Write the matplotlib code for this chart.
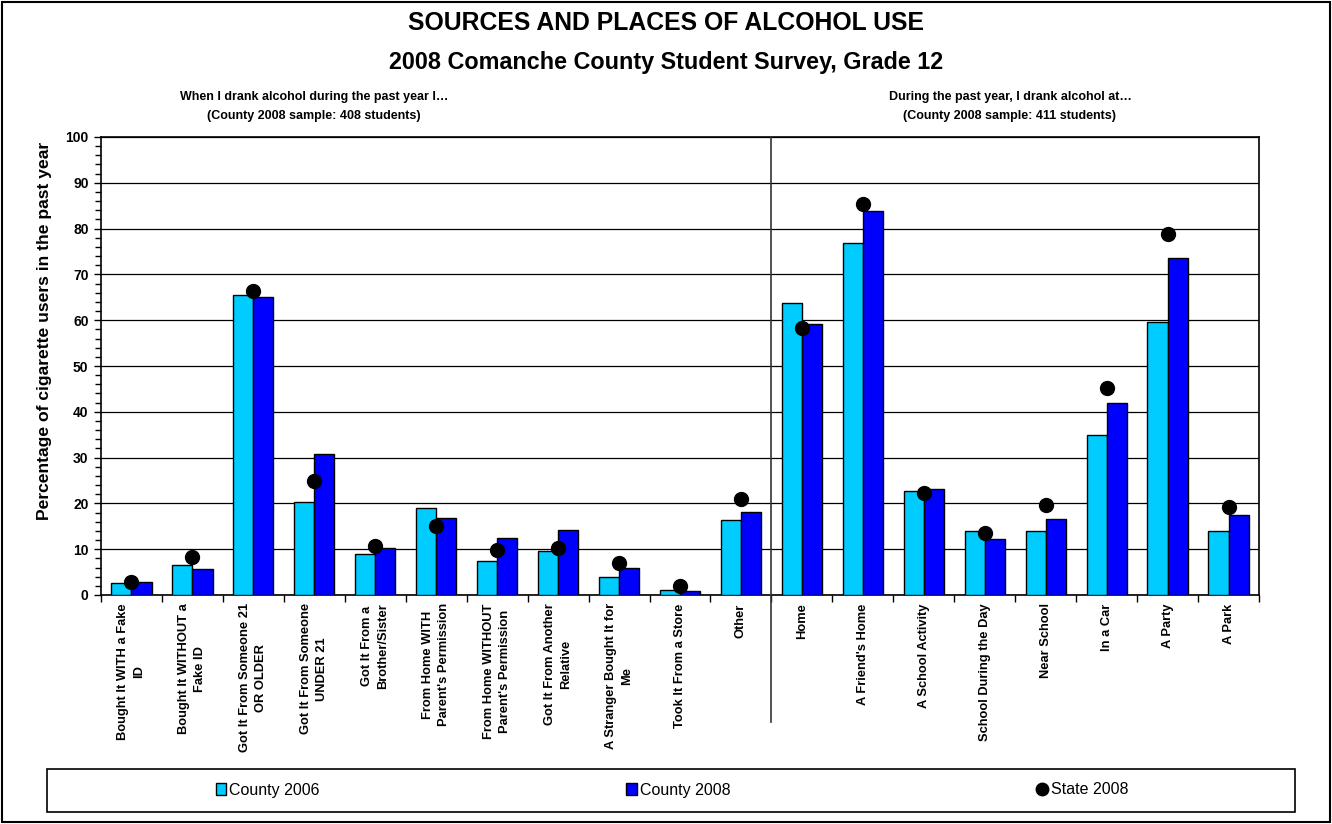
import matplotlib
matplotlib.use("Agg")
import matplotlib.pyplot as plt
import matplotlib.transforms as mtransforms
from matplotlib.patches import Patch, Rectangle
from matplotlib.lines import Line2D
import numpy as np

plt.rcParams["font.family"] = ["Liberation Sans", "DejaVu Sans"]

# Source categories (left panel) and place categories (right panel)
source_labels = [
    "Bought It WITH a Fake\nID",
    "Bought It WITHOUT a\nFake ID",
    "Got It From Someone 21\nOR OLDER",
    "Got It From Someone\nUNDER 21",
    "Got It From a\nBrother/Sister",
    "From Home WITH\nParent's Permission",
    "From Home WITHOUT\nParent's Permission",
    "Got It From Another\nRelative",
    "A Stranger Bought It for\nMe",
    "Took It From a Store",
    "Other",
]
place_labels = [
    "Home",
    "A Friend's Home",
    "A School Activity",
    "School During the Day",
    "Near School",
    "In a Car",
    "A Party",
    "A Park",
]

county_2006_src = [2.7, 6.6, 65.6, 20.3, 8.9, 19.1, 7.4, 9.7, 3.9, 1.1, 16.4]
county_2008_src = [2.9, 5.6, 65.0, 30.8, 10.3, 16.9, 12.5, 14.2, 5.9, 0.9, 18.2]
state_2008_src = [2.8, 8.3, 66.3, 24.8, 10.7, 15.1, 9.9, 10.3, 6.9, 2.0, 21.0]

county_2006_plc = [63.7, 76.8, 22.7, 13.9, 13.9, 34.9, 59.7, 13.9]
county_2008_plc = [59.1, 83.9, 23.1, 12.2, 16.6, 42.0, 73.5, 17.5]
state_2008_plc = [58.2, 85.3, 22.2, 13.5, 19.7, 45.1, 78.8, 19.3]

labels = source_labels + place_labels
c2006 = county_2006_src + county_2006_plc
c2008 = county_2008_src + county_2008_plc
s2008 = state_2008_src + state_2008_plc

LIGHT = "#00CCFF"
DARK = "#0000FF"

W, H = 1332, 824
fig = plt.figure(figsize=(W / 100, H / 100), dpi=100)
ax = fig.add_axes([101 / W, 1 - 595 / H, (1259 - 101) / W, (595 - 137) / H])

x = np.arange(len(labels))
bw = 0.33
ax.bar(x - bw / 2, c2006, bw, color=LIGHT, edgecolor="black", linewidth=1, zorder=3)
ax.bar(x + bw / 2, c2008, bw, color=DARK, edgecolor="black", linewidth=1, zorder=3)
ax.plot(x, s2008, "o", color="black", markersize=10, zorder=4, clip_on=False)

ax.set_xlim(-0.5, len(labels) - 0.5)
ax.set_ylim(0, 100)

# y axis: major every 10, minor every 2
ax.set_yticks(np.arange(0, 101, 10))
ax.set_yticks(np.arange(0, 101, 2), minor=True)
ax.tick_params(axis="y", which="major", direction="out", length=5, width=1, labelsize=10, pad=4)
ax.tick_params(axis="y", which="minor", direction="out", length=4, width=1)
for t in ax.get_yticklabels():
    t.set_fontweight("bold")
ax.grid(axis="y", which="major", color="black", linewidth=0.9, zorder=0)

# x axis: ticks at category boundaries, labels at centers
ax.set_xticks(np.arange(-0.5, len(labels), 1))
ax.set_xticklabels([])
ax.set_xticks(x, minor=True)
ax.set_xticklabels(labels, minor=True, rotation=90, fontsize=9.3, fontweight="bold",
                   va="top", ha="center", multialignment="center", linespacing=1.45)
ax.tick_params(axis="x", which="major", direction="out", length=5, width=1)
ax.tick_params(axis="x", which="minor", length=0, pad=6)

for s in ax.spines.values():
    s.set_linewidth(1.2)

fig.text(45 / W, 1 - 331 / H, "Percentage of cigarette users in the past year",
         rotation=90, ha="center", va="center", fontsize=12.6, fontweight="bold")

# divider between the two panels
trans = mtransforms.blended_transform_factory(ax.transData, ax.transAxes)
ax.plot([10.5, 10.5], [-0.277, 1], transform=trans, color="#333333",
        linewidth=1.2, clip_on=False, zorder=5)

# titles
fig.text(0.5, 1 - 23 / H, "SOURCES AND PLACES OF ALCOHOL USE", ha="center", va="center",
         fontsize=17.8, fontweight="bold")
fig.text(0.5, 1 - 63 / H, "2008 Comanche County Student Survey, Grade 12", ha="center",
         va="center", fontsize=16.8, fontweight="bold")
fig.text(314 / W, 1 - 97 / H, "When I drank alcohol during the past year I\u2026",
         ha="center", va="center", fontsize=9, fontweight="bold")
fig.text(314 / W, 1 - 116 / H, "(County 2008 sample: 408 students)",
         ha="center", va="center", fontsize=9, fontweight="bold")
fig.text(1010 / W, 1 - 97 / H, "During the past year, I drank alcohol at\u2026",
         ha="center", va="center", fontsize=9, fontweight="bold")
fig.text(1010 / W, 1 - 116 / H, "(County 2008 sample: 411 students)",
         ha="center", va="center", fontsize=9, fontweight="bold")

# legend box
fig.patches.append(Rectangle((47 / W, 1 - 812 / H), (1295 - 47) / W, 43 / H,
                             transform=fig.transFigure, fill=False,
                             edgecolor="black", linewidth=1.2))
handles = [
    Patch(facecolor=LIGHT, edgecolor="black", linewidth=1),
    Patch(facecolor=DARK, edgecolor="black", linewidth=1),
    Line2D([], [], marker="o", color="black", linestyle="none", markersize=9),
]
fig.legend(handles, ["County 2006", "County 2008", "State 2008"], loc="center",
           bbox_to_anchor=(672 / W, 1 - 790 / H), ncol=3, frameon=False,
           fontsize=11.5, handlelength=0.65, handleheight=0.75, handletextpad=0.2,
           columnspacing=19.2)

# outer border
fig.patches.append(Rectangle((2 / W, 2 / H), (W - 4) / W, (H - 4) / H,
                             transform=fig.transFigure, fill=False,
                             edgecolor="black", linewidth=1.5))

fig.savefig("out.png", dpi=100)
